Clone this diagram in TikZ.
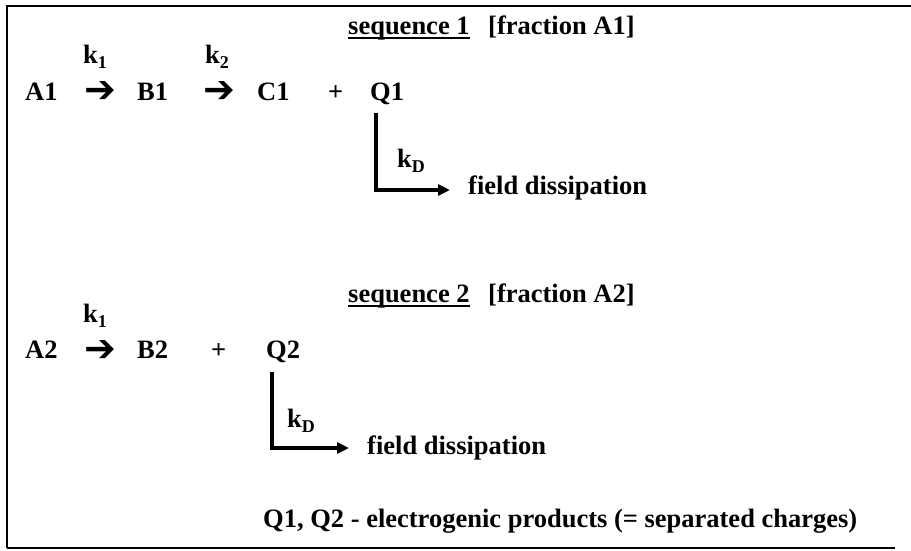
\documentclass[tikz,border=0pt]{standalone}
\usepackage{fontspec}
\setmainfont{Liberation Serif}
\newfontfamily\dvsans{DejaVu Sans}
\usetikzlibrary{arrows.meta}
\newcommand{\ksub}[1]{k\raisebox{-5pt}{\fontsize{18}{18}\selectfont #1}}
\begin{document}
\begin{tikzpicture}[x=1pt,y=-1pt,
  lbl/.style={inner sep=0pt, anchor=base west, font=\fontsize{26.5}{30}\selectfont\bfseries},
  rarrow/.style={inner sep=0pt, anchor=center, font=\dvsans\fontsize{38}{38}\selectfont},
  conn/.style={line width=3.2pt, -{Triangle[length=12pt,width=11pt]}},
  uline/.style={line width=2pt},
  frame/.style={line width=2.5pt}]
\useasboundingbox (0,0) rectangle (911,550);
% frame
\draw[frame] (911,6) -- (7,6) -- (7,548);
\draw[line width=1.6pt] (7,548) -- (895,548);

% sequence 1
\node[lbl] (seq1) at (348,34) {sequence 1};
\node[lbl] (fr1) at (488,34) {[fraction A1]};
\draw[uline] ([yshift=-4pt]seq1.base west) -- ([yshift=-4pt]seq1.base east);

\node[lbl] (k11) at (83,63) {\ksub{1}};
\node[lbl] (k12) at (205,63) {\ksub{2}};
\node[lbl] (A1) at (25,100) {A1};
\node[rarrow] (ar11) at (100,92) {➔};
\node[lbl] (B1) at (137,100) {B1};
\node[rarrow] (ar12) at (219,92) {➔};
\node[lbl] (C1) at (257,100) {C1};
\node[lbl] (p1) at (328,100) {+};
\node[lbl] (Q1) at (370,100) {Q1};
\node[lbl] (kD1) at (397,167) {\ksub{D}};
\node[lbl] (fd1) at (468,194) {field dissipation};
\draw[conn] ([xshift=6pt,yshift=-13pt]Q1.base west) |- ([xshift=-18pt,yshift=4pt]fd1.base west);

% sequence 2
\node[lbl] (seq2) at (348,302) {sequence 2};
\node[lbl] (fr2) at (488,302) {[fraction A2]};
\draw[uline] ([yshift=-4pt]seq2.base west) -- ([yshift=-4pt]seq2.base east);

\node[lbl] (k21) at (83,322) {\ksub{1}};
\node[lbl] (A2) at (25,358) {A2};
\node[rarrow] (ar21) at (100,351) {➔};
\node[lbl] (B2) at (137,358) {B2};
\node[lbl] (p2) at (211,358) {+};
\node[lbl] (Q2) at (266,358) {Q2};
\node[lbl] (kD2) at (287,427) {\ksub{D}};
\node[lbl] (fd2) at (367,454) {field dissipation};
\draw[conn] ([xshift=6pt,yshift=-14pt]Q2.base west) |- ([xshift=-18pt,yshift=6pt]fd2.base west);

\node[lbl] (note) at (263,527) {Q1, Q2 - electrogenic products (= separated charges)};
\end{tikzpicture}
\end{document}
